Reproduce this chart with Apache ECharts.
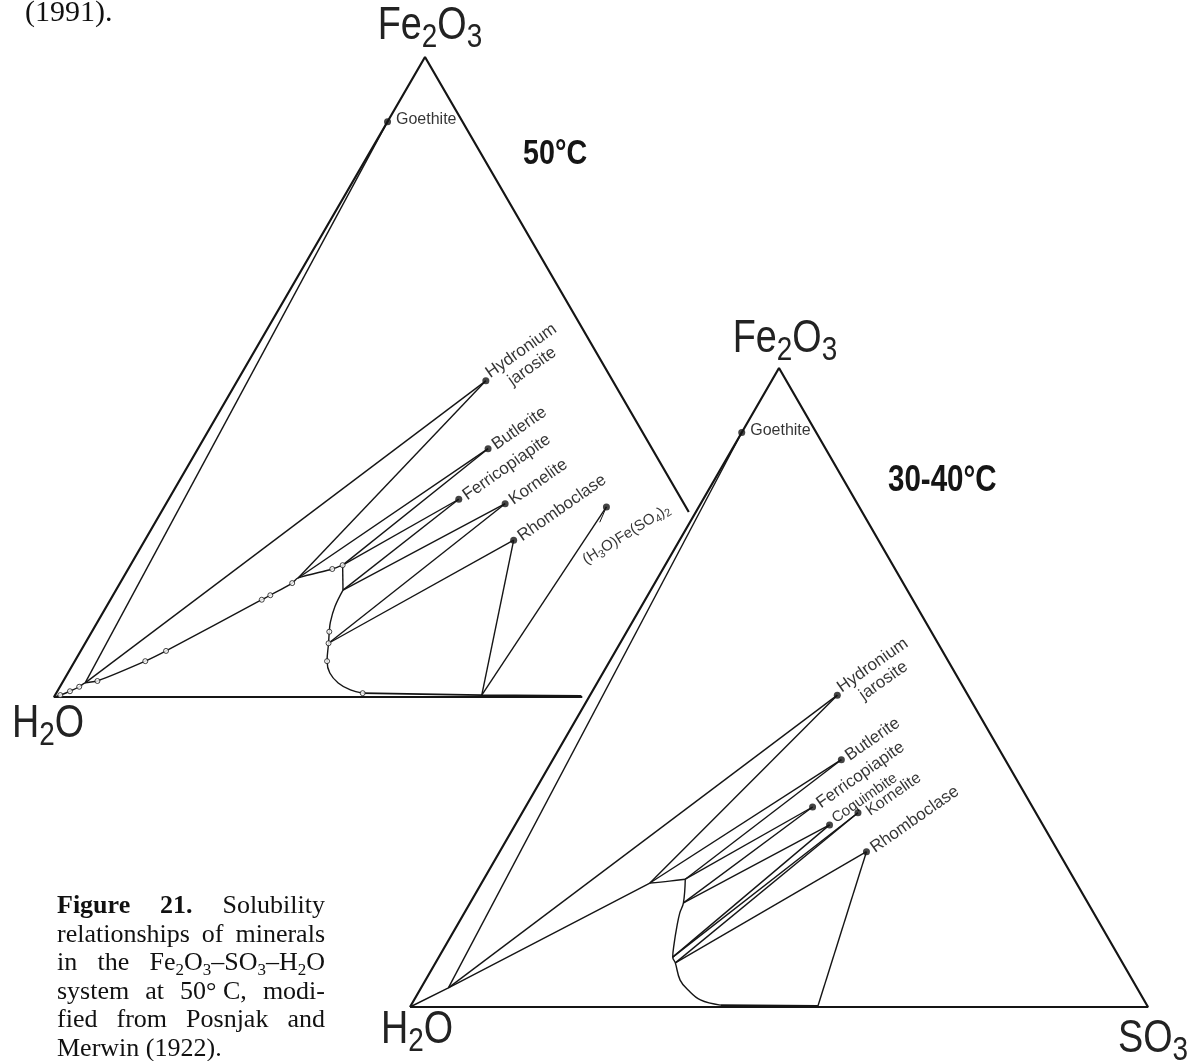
<!DOCTYPE html>
<html>
<head>
<meta charset="utf-8">
<title>Fe2O3-SO3-H2O solubility</title>
<script src="https://cdn.jsdelivr.net/npm/echarts@6.0.0/dist/echarts.min.js"></script>
<style>
  html, body { margin: 0; padding: 0; background: #fff; }
  #main { width: 1190px; height: 1061px; }
</style>
</head>
<body>
<div id="main"></div>
<script>
// all compositions are wt% [Fe2O3, SO3], H2O is the rest

// ---------- 50 °C ----------
var minerals50 = ['Goethite', 'Hydronium\njarosite', 'Butlerite', 'Ferricopiapite', 'Kornelite', 'Rhomboclase', '(H3O)Fe(SO4)2']
var solids50 = [[89.9, 0], [49.4, 33.5], [38.8, 39.1], [30.9, 39.1], [30.2, 45.7], [24.5, 49.7], [29.7, 59.6]]
// triangle sides (the right part is hidden behind the 30-40 °C diagram)
var frame50 = [[0, 71.2], [0, 0], [100, 0], [28.9, 71.1]]
// isotherm
var curve50a = [[0, 0], [0.3, 0.7], [0.9, 1.7], [1.6, 2.6], [2.2, 3.1], [2.5, 4.6], [5.6, 9.5], [7.2, 11.5], [15.2, 20.4], [15.9, 21.2], [17.8, 23.2], [18.6, 23.6], [20.0, 27.5], [20.6, 28.6]]
var curve50b = [[20.6, 28.6], [16.7, 30.6]]
var curve50c = [[16.7, 30.6], [14.1, 30.8], [11.7, 31.4], [10.2, 32.0], [8.4, 32.8], [5.6, 34.0], [3.75, 35.3], [2.2, 37.2], [1.1, 39.4], [0.6, 41.3]]
var curve50d = [[0.6, 41.3], [0.3, 57.5], [0.15, 71.0]]
// measured solutions (open circles)
var points50 = [[0.3, 0.7], [0.9, 1.7], [1.6, 2.6], [2.5, 4.6], [5.6, 9.5], [7.2, 11.5], [15.2, 20.4], [15.9, 21.2], [17.8, 23.2], [20.0, 27.5], [20.6, 28.6], [10.2, 32.0], [8.4, 32.8], [5.6, 34.0], [0.6, 41.3]]
// tie lines: [solid index, liquid composition]
var ties50 = [
  [0, [2.2, 3.1]], [1, [2.2, 3.1]], [1, [18.6, 23.6]], [2, [18.6, 23.6]], [2, [20.6, 28.6]],
  [3, [20.6, 28.6]], [3, [16.7, 30.6]], [4, [16.7, 30.6]], [4, [8.4, 32.8]], [5, [8.4, 32.8]],
  [5, [0.3, 57.5]], [6, [0.3, 57.5]]
]
var leader50 = [[6, [27.3, 59.9]]]

// ---------- 30-40 °C ----------
var minerals30 = ['Goethite', 'Hydronium\njarosite', 'Butlerite', 'Ferricopiapite', 'Coquimbite', 'Kornelite', 'Rhomboclase']
var solids30 = [[89.9, 0], [48.8, 33.5], [38.7, 39.1], [31.3, 38.9], [28.5, 42.6], [30.4, 45.5], [24.3, 49.7]]
var frame30 = [[0, 0], [100, 0], [0, 100], [0, 0]]
var curve30a = [[0, 0], [3.0, 3.7], [19.4, 22.8]]
var curve30b = [[19.4, 22.8], [19.7, 25.3], [20.0, 27.3]]
var curve30c = [[20.0, 27.3], [16.3, 28.9], [14.7, 29.2], [12.5, 29.9], [10.0, 30.8], [7.8, 31.7], [6.9, 32.5], [4.2, 34.5], [2.7, 36.3], [1.1, 38.8], [0.3, 41.9]]
var curve30d = [[0.3, 41.9], [0.15, 55.2]]
var ties30 = [
  [0, [3.0, 3.7]], [1, [3.0, 3.7]], [1, [19.4, 22.8]], [2, [19.4, 22.8]], [2, [20.0, 27.3]],
  [3, [20.0, 27.3]], [3, [16.3, 28.9]], [4, [16.3, 28.9]], [4, [7.8, 31.7]], [5, [7.8, 31.7]],
  [5, [6.9, 32.5]], [6, [6.9, 32.5]], [6, [0.15, 55.2]]
]

var captionLines = [
  [[['b', 'Figure']], [['b', '21.']], [['r', 'Solubility']]],
  [[['r', 'relationships']], [['r', 'of']], [['r', 'minerals']]],
  [[['r', 'in']], [['r', 'the']], [['r', 'Fe'], ['s', '2'], ['r', 'O'], ['s', '3'], ['r', '–SO'], ['s', '3'], ['r', '–H'], ['s', '2'], ['r', 'O']]],
  [[['r', 'system']], [['r', 'at']], [['r', '50° C,']], [['r', 'modi-']]],
  [[['r', 'fied']], [['r', 'from']], [['r', 'Posnjak']], [['r', 'and']]],
  [[['r', 'Merwin']], [['r', '(1922).']]]
]

var INK = '#151515'
var FONT = '"Liberation Sans", Arial, Helvetica, sans-serif'
var SERIF = '"Liberation Serif", "Times New Roman", serif'
var NARROW_X = 0.82   // condensed look for the big labels
var SQ3 = Math.sqrt(3) / 2

// ternary -> cartesian (H2O at origin, SO3 at x = 1)
function tern(c) {
  return [c[1] / 100 + c[0] / 200, c[0] / 100 * SQ3]
}

function lineSeries(g, pts, width, smooth) {
  return {
    type: 'line', xAxisIndex: g, yAxisIndex: g, data: pts.map(tern),
    symbol: 'none', smooth: smooth || false, clip: false, silent: true,
    lineStyle: { color: INK, width: width }, z: 2
  }
}

function tieSeries(g, solids, ties, width) {
  return {
    type: 'lines', coordinateSystem: 'cartesian2d', xAxisIndex: g, yAxisIndex: g,
    silent: true, clip: false,
    data: ties.map(function (t) { return { coords: [tern(solids[t[0]]), tern(t[1])] } }),
    lineStyle: { color: INK, width: width, opacity: 1 }, z: 2
  }
}

function mineralLabel(name, g) {
  var lab = {
    show: true, formatter: '{b}', color: '#000', fontFamily: FONT, fontSize: 17,
    position: 'right', distance: 4, rotate: 35, offset: [0, -3]
  }
  if (name === 'Goethite') {
    return Object.assign(lab, { rotate: 0, fontSize: 16, distance: 5, offset: [0, -2] })
  }
  if (name.indexOf('Hydronium') === 0) {
    return Object.assign(lab, { align: 'center', lineHeight: 19, offset: [40, 1] })
  }
  // crowded corner of the 30-40 °C diagram
  if (name === 'Coquimbite') {
    return Object.assign(lab, { fontSize: 15, offset: [0, -6] })
  }
  if (name === 'Kornelite' && g === 1) {
    return Object.assign(lab, { fontSize: 16, offset: [2, 1] })
  }
  if (name.indexOf('(H3O)') === 0) {
    return Object.assign(lab, {
      rotate: 32, align: 'center', offset: [-4, 31],
      formatter: '{n|(H}{s|3}{n|O)Fe(SO}{s|4}{n|)}{s|2}',
      rich: {
        n: { fontFamily: FONT, fontSize: 15, lineHeight: 15, verticalAlign: 'top', color: '#000' },
        s: { fontFamily: FONT, fontSize: 11, lineHeight: 17, verticalAlign: 'bottom', color: '#000' }
      }
    })
  }
  return lab
}

function mineralSeries(g, names, solids) {
  return {
    type: 'scatter', xAxisIndex: g, yAxisIndex: g, silent: true, symbolSize: 7,
    itemStyle: { color: INK }, z: 5,
    data: solids.map(function (c, i) {
      return { name: names[i], value: tern(c), label: mineralLabel(names[i], g) }
    })
  }
}

var chart = echarts.init(document.getElementById('main'))
chart.setOption({
  backgroundColor: '#fff',
  animation: false,
  grid: [
    { left: 54, top: 57, width: 742, height: 640 },
    { left: 410, top: 368, width: 738, height: 639 }
  ],
  xAxis: [0, 1].map(function (g) { return { gridIndex: g, type: 'value', min: 0, max: 1, show: false } }),
  yAxis: [0, 1].map(function (g) { return { gridIndex: g, type: 'value', min: 0, max: SQ3, show: false } }),
  series: [
    // 50 °C
    lineSeries(0, frame50, 2.2),
    lineSeries(0, curve50a, 1.4, 0.3),
    lineSeries(0, curve50b, 1.4),
    lineSeries(0, curve50c, 1.4, 0.4),
    lineSeries(0, curve50d, 1.9),
    tieSeries(0, solids50, ties50, 1.4),
    tieSeries(0, solids50, leader50, 1),
    {
      type: 'scatter', xAxisIndex: 0, yAxisIndex: 0, silent: true, symbolSize: 5, z: 4,
      itemStyle: { color: '#fff', borderColor: INK, borderWidth: 1 },
      data: points50.map(tern)
    },
    mineralSeries(0, minerals50, solids50),
    // 30-40 °C
    lineSeries(1, frame30, 2.2),
    lineSeries(1, curve30a, 1.4),
    lineSeries(1, curve30b, 1.4, 0.4),
    lineSeries(1, curve30c, 1.4, 0.4),
    lineSeries(1, curve30d, 1.9),
    tieSeries(1, solids30, ties30, 1.4),
    mineralSeries(1, minerals30, solids30)
  ]
})

// ---------- texts ----------
var graphics = []

// caption, justified word by word
var ctx = document.createElement('canvas').getContext('2d')
function segFont(k) {
  if (k === 'b') return 'bold 26px ' + SERIF
  if (k === 's') return '17px ' + SERIF
  return '26px ' + SERIF
}
function wordWidth(w) {
  return w.reduce(function (s, seg) { ctx.font = segFont(seg[0]); return s + ctx.measureText(seg[1]).width }, 0)
}
var capRich = {
  r: { fontFamily: SERIF, fontSize: 26, lineHeight: 26, verticalAlign: 'top', fill: '#111' },
  b: { fontFamily: SERIF, fontSize: 26, fontWeight: 'bold', lineHeight: 26, verticalAlign: 'top', fill: '#111' },
  s: { fontFamily: SERIF, fontSize: 17, lineHeight: 29, verticalAlign: 'bottom', fill: '#111' }
}
var capLeft = 57, capRight = 325, capBase = 915, capStep = 28.6
ctx.font = segFont('r')
var spaceW = ctx.measureText(' ').width
captionLines.forEach(function (line, li) {
  var widths = line.map(wordWidth)
  var sum = widths.reduce(function (a, b) { return a + b }, 0)
  var last = li === captionLines.length - 1
  var gap = last ? spaceW : (capRight - capLeft - sum) / (line.length - 1)
  var x = capLeft
  line.forEach(function (w, wi) {
    graphics.push({
      type: 'text', x: x, y: capBase + li * capStep - 21.8, silent: true,
      style: {
        text: w.map(function (seg) { return '{' + seg[0] + '|' + seg[1] + '}' }).join(''),
        rich: capRich, verticalAlign: 'top', align: 'left'
      }
    })
    x += widths[wi] + gap
  })
})

graphics.push(
  { type: 'text', x: 25, y: 13, silent: true, style: { text: '(1991).', fontFamily: SERIF, fontSize: 30, fill: '#111', verticalAlign: 'middle' } },
  { type: 'text', x: 523, y: 154.5, scaleX: NARROW_X, silent: true, style: { text: '50°C', fontFamily: FONT, fontWeight: 'bold', fontSize: 35, fill: INK, verticalAlign: 'middle' } },
  { type: 'text', x: 888, y: 481.5, scaleX: NARROW_X, silent: true, style: { text: '30-40°C', fontFamily: FONT, fontWeight: 'bold', fontSize: 36, fill: INK, verticalAlign: 'middle' } }
)

// component names at the corners, placed from the axes' pixel mapping
var chemRich = {
  n: { fontFamily: FONT, fontSize: 46, lineHeight: 46, verticalAlign: 'top', fill: '#222' },
  s: { fontFamily: FONT, fontSize: 34, lineHeight: 52, verticalAlign: 'bottom', fill: '#222' }
}
function cornerText(g, comp, text, vAlign, dx, dy) {
  var p = chart.convertToPixel({ gridIndex: g }, tern(comp))
  return {
    type: 'text', x: p[0] + dx, y: p[1] + dy, scaleX: NARROW_X, silent: true,
    style: { text: text, rich: chemRich, align: 'center', verticalAlign: vAlign }
  }
}
var FE2O3 = '{n|Fe}{s|2}{n|O}{s|3}'
var H2O = '{n|H}{s|2}{n|O}'
var SO3 = '{n|SO}{s|3}'
graphics.push(
  cornerText(0, [100, 0], FE2O3, 'bottom', 5, -2),
  cornerText(0, [0, 0], H2O, 'top', -6, 4),
  cornerText(1, [100, 0], FE2O3, 'bottom', 6, 0),
  cornerText(1, [0, 0], H2O, 'top', 7, 0),
  cornerText(1, [0, 100], SO3, 'top', 5, 9)
)

chart.setOption({ graphic: graphics })
</script>
</body>
</html>
